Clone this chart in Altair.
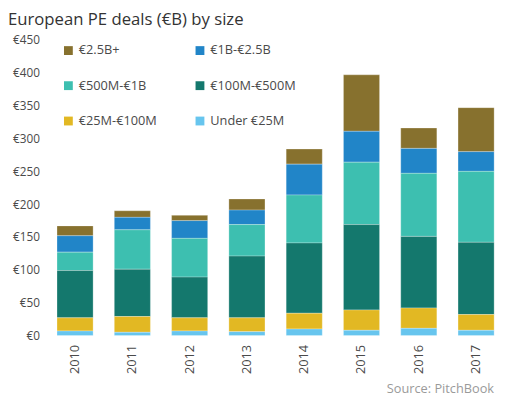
import altair as alt
import pandas as pd

years = ["2010", "2011", "2012", "2013", "2014", "2015", "2016", "2017"]
categories = ["€2.5B+", "€1B-€2.5B", "€500M-€1B", "€100M-€500M", "€25M-€100M", "Under €25M"]
colors = ["#87712E", "#2185C8", "#3DBFB0", "#14786D", "#E2B823", "#67C5EE"]

under_25m = [7, 5, 7, 6, 10, 8, 11, 8]
m25_100 = [20, 24, 20, 21, 24, 31, 31, 24]
m100_500 = [72, 72, 62, 94, 107, 130, 109, 110]
m500_1b = [28, 60, 59, 48, 73, 95, 96, 108]
b1_25 = [25, 19, 27, 22, 47, 47, 38, 30]
b25_plus = [15, 10, 8, 17, 23, 86, 31, 67]

series = {
    "€2.5B+": b25_plus,
    "€1B-€2.5B": b1_25,
    "€500M-€1B": m500_1b,
    "€100M-€500M": m100_500,
    "€25M-€100M": m25_100,
    "Under €25M": under_25m,
}

rows = []
for cat, vals in series.items():
    rank = len(categories) - 1 - categories.index(cat)
    for y, v in zip(years, vals):
        rows.append({"year": y, "size": cat, "value": v, "rank": rank})
df = pd.DataFrame(rows)

FONT = "Open Sans"

bars = alt.Chart(df).mark_bar(stroke="white", strokeWidth=0.6, strokeOpacity=0.45).encode(
    x=alt.X("year:N", title=None,
            scale=alt.Scale(paddingInner=0.37, paddingOuter=0.05),
            axis=alt.Axis(labelAngle=270, labelPadding=9, ticks=False, domain=False,
                          labelFontSize=13, labelColor="#4a4a4a", labelFont=FONT)),
    y=alt.Y("value:Q", title=None, stack="zero",
            scale=alt.Scale(domain=[0, 450], nice=False),
            axis=alt.Axis(values=list(range(0, 451, 50)), labelExpr="'€' + datum.value",
                          grid=False, ticks=False, domain=False, labelPadding=15,
                          labelFontSize=12, labelColor="#4a4a4a", labelFont=FONT)),
    color=alt.Color("size:N", title=None,
                    scale=alt.Scale(domain=categories, range=colors),
                    legend=alt.Legend(orient="none", legendX=8, legendY=4, columns=2,
                                      direction="horizontal",
                                      symbolType="square", symbolSize=81, symbolStrokeWidth=0,
                                      labelFontSize=13, labelColor="#4a4a4a", labelFont=FONT,
                                      rowPadding=22, columnPadding=37, labelOffset=4,
                                      padding=0)),
    order=alt.Order("rank:Q", sort="ascending"),
)

title_df = pd.DataFrame({"t": ["European PE deals (€B) by size"]})
title = alt.Chart(title_df).mark_text(
    align="left", baseline="alphabetic", fontSize=17, font=FONT, color="#333333"
).encode(text="t:N", x=alt.value(-47), y=alt.value(-15))

source_df = pd.DataFrame({"t": ["Source: PitchBook"]})
source = alt.Chart(source_df).mark_text(
    align="right", baseline="middle", fontSize=13, font=FONT, color="#9a9a9a"
).encode(text="t:N", x=alt.value(448), y=alt.value(355))

chart = alt.layer(bars, title, source).properties(
    width=451, height=301,
    autosize=alt.AutoSizeParams(type="none"),
    padding={"left": 47, "top": 29, "right": 0, "bottom": 61},
).configure_view(stroke=None)

chart.save("out.html", embed_options={"renderer": "svg", "actions": False})
